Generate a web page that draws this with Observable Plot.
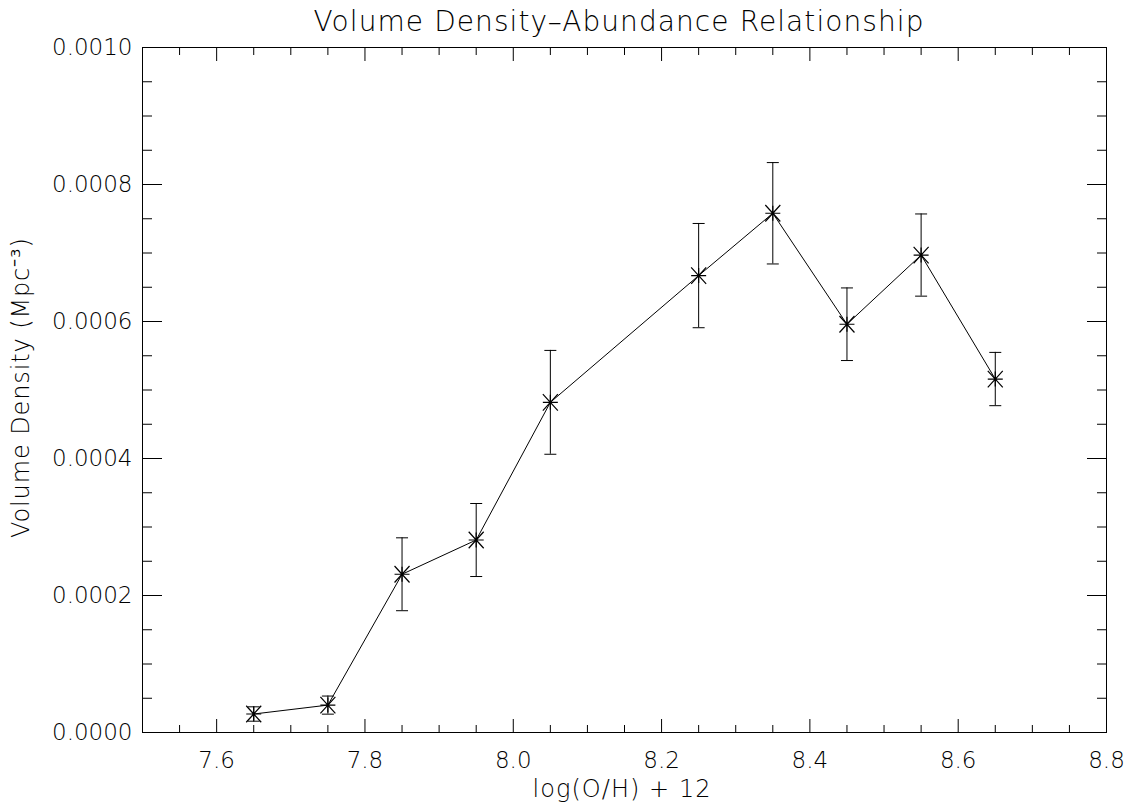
<!DOCTYPE html>
<html>
<head>
<meta charset="utf-8">
<script src="https://cdn.jsdelivr.net/npm/d3@7"></script>
<script src="https://cdn.jsdelivr.net/npm/@observablehq/plot@0.6"></script>
<style>
  html, body { margin: 0; padding: 0; background: #fff; }
  #chart svg { display: block; }
</style>
</head>
<body>
<div id="chart"></div>
<script>
// ---- data ----
const abundance = [7.65, 7.75, 7.85, 7.95, 8.05, 8.25, 8.35, 8.45, 8.55, 8.65];
const density   = [0.0000270, 0.0000400, 0.000231, 0.000281, 0.000482, 0.000667, 0.000758, 0.000596, 0.000697, 0.000516];
const densityErr = [0.0000105, 0.0000132, 0.0000532, 0.0000533, 0.0000758, 0.0000761, 0.0000740, 0.0000530, 0.0000600, 0.0000389];

const xMajorTicks = [7.6, 7.8, 8.0, 8.2, 8.4, 8.6, 8.8];
const xMinorTicks = [7.55, 7.65, 7.7, 7.75, 7.85, 7.9, 7.95, 8.05, 8.1, 8.15, 8.25, 8.3, 8.35, 8.45, 8.5, 8.55, 8.65, 8.7, 8.75];
const yMajorTicks = [0, 0.0002, 0.0004, 0.0006, 0.0008, 0.0010];
const yMinorTicks = [0.00005, 0.0001, 0.00015, 0.00025, 0.0003, 0.00035, 0.00045, 0.0005, 0.00055, 0.00065, 0.0007, 0.00075, 0.00085, 0.0009, 0.00095];

const titleText = "Volume Density–Abundance Relationship";
const xLabel = "log(O/H) + 12";
const yLabel = "Volume Density (Mpc⁻³)";

const rows = abundance.map((x, i) => ({
  x, y: density[i], lo: density[i] - densityErr[i], hi: density[i] + densityErr[i]
}));

// custom symbols
const asterisk = {
  draw(ctx, size) {
    const r = Math.sqrt(size / Math.PI);
    ctx.moveTo(-r, 0); ctx.lineTo(r, 0);
    ctx.moveTo(0, -r); ctx.lineTo(0, r);
    ctx.moveTo(-r, -r * 1.1); ctx.lineTo(r, r * 1.1);
    ctx.moveTo(-r, r * 1.1); ctx.lineTo(r, -r * 1.1);
  }
};
const cap = {
  draw(ctx, size) {
    const r = Math.sqrt(size / Math.PI);
    ctx.moveTo(-r, 0); ctx.lineTo(r, 0);
  }
};

const FONT = "'DejaVu Sans', sans-serif";
const blank = () => "";

const chart = Plot.plot({
  width: 1139,
  height: 809,
  marginTop: 47,
  marginLeft: 142,
  marginRight: 33,
  marginBottom: 77,
  style: { fontFamily: FONT, fontWeight: 200, color: "#000", background: "#fff" },
  x: { domain: [7.5, 8.8], axis: null },
  y: { domain: [0, 0.001], axis: null },
  marks: [
    Plot.frame({ stroke: "#000", strokeWidth: 1 }),
    // bottom ticks & labels
    Plot.axisX({ anchor: "bottom", ticks: xMinorTicks, tickSize: -7, tickFormat: blank, label: null }),
    Plot.axisX({ anchor: "bottom", ticks: xMajorTicks, tickSize: -13, tickFormat: blank, label: null }),
    Plot.axisX({ anchor: "bottom", ticks: xMajorTicks, tickSize: 0, tickPadding: 19, tickFormat: d3.format(".1f"), fontSize: 23, label: null }),
    // top ticks
    Plot.axisX({ anchor: "top", ticks: xMinorTicks, tickSize: -7, tickFormat: blank, label: null }),
    Plot.axisX({ anchor: "top", ticks: xMajorTicks, tickSize: -13, tickFormat: blank, label: null }),
    // left ticks & labels
    Plot.axisY({ anchor: "left", ticks: yMinorTicks, tickSize: -10, tickFormat: blank, label: null }),
    Plot.axisY({ anchor: "left", ticks: yMajorTicks, tickSize: -20, tickFormat: blank, label: null }),
    Plot.axisY({ anchor: "left", ticks: yMajorTicks, tickSize: 0, tickPadding: 10, tickFormat: d3.format(".4f"), fontSize: 23, label: null }),
    // right ticks
    Plot.axisY({ anchor: "right", ticks: yMinorTicks, tickSize: -10, tickFormat: blank, label: null }),
    Plot.axisY({ anchor: "right", ticks: yMajorTicks, tickSize: -20, tickFormat: blank, label: null }),
    // error bars
    Plot.ruleX(rows, { x: "x", y1: "lo", y2: "hi", stroke: "#000", strokeWidth: 1 }),
    Plot.dot(rows, { x: "x", y: "hi", symbol: cap, r: 6, stroke: "#000", strokeWidth: 1, fill: "none" }),
    Plot.dot(rows, { x: "x", y: "lo", symbol: cap, r: 6, stroke: "#000", strokeWidth: 1, fill: "none" }),
    // line + markers
    Plot.line(rows, { x: "x", y: "y", stroke: "#000", strokeWidth: 1 }),
    Plot.dot(rows, { x: "x", y: "y", symbol: asterisk, r: 7.5, stroke: "#000", strokeWidth: 1.2, fill: "none" }),
    // titles
    Plot.text([titleText], { frameAnchor: "top", dx: -6, dy: -25, fontSize: 28, lineAnchor: "middle", fill: "#000" }),
    Plot.text([xLabel], { frameAnchor: "bottom", dx: -3, dy: 57, fontSize: 24, lineAnchor: "middle", fill: "#000" }),
    Plot.text([yLabel], { frameAnchor: "left", dx: -121, dy: -2, rotate: -90, fontSize: 24, textAnchor: "middle", lineAnchor: "middle", fill: "#000" })
  ]
});

// stretch text to the wide stroke-font proportions of the original
const stretch = { [titleText]: 610, [xLabel]: 178, [yLabel]: 300 };
d3.select(chart).selectAll("text").each(function () {
  const t = this.textContent;
  if (stretch[t]) {
    this.setAttribute("textLength", stretch[t]);
    this.setAttribute("lengthAdjust", "spacing");
  }
});
document.getElementById("chart").appendChild(chart);
</script>
</body>
</html>
